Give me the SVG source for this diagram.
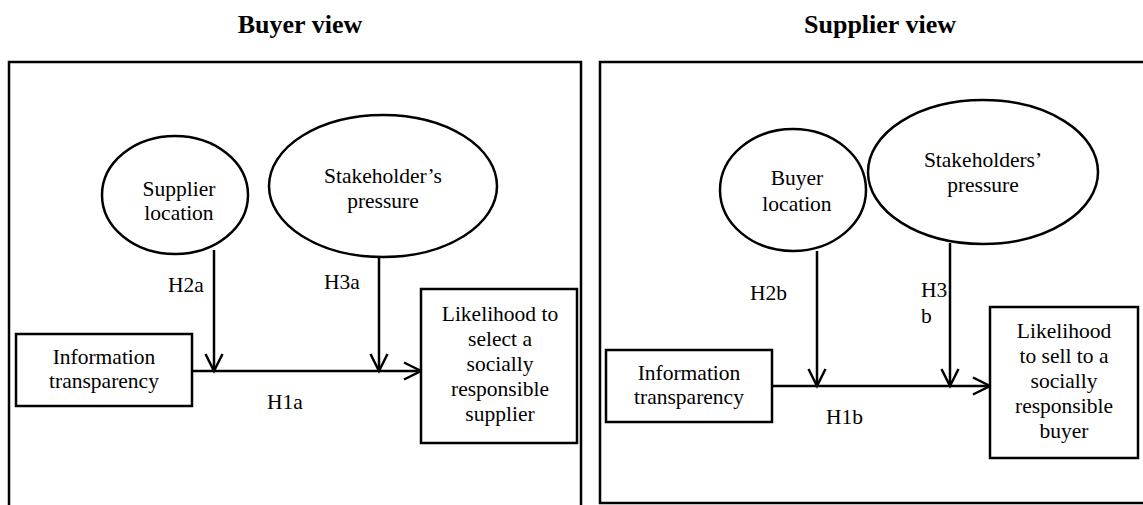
<svg xmlns="http://www.w3.org/2000/svg" width="1143" height="505" viewBox="0 0 1143 505">
<style>
  .t { font-family: "Liberation Serif", "Times New Roman", serif; font-size: 21.5px; fill: #000; }
  .c { text-anchor: middle; }
  .title { font-family: "Liberation Serif", "Times New Roman", serif; font-size: 26px; font-weight: bold; text-anchor: middle; fill: #000; }
  .shape { fill: #fff; stroke: #000; stroke-width: 2.5; }
  .panel { fill: none; stroke: #000; stroke-width: 2.5; }
  .conn { fill: none; stroke: #000; stroke-width: 2.5; }
</style>
<defs>
  <marker id="arr" markerUnits="userSpaceOnUse" markerWidth="24" markerHeight="24" viewBox="-20 -12 24 24" refX="0" refY="0" orient="auto">
    <path d="M-17,-8.5 L0,0 L-17,8.5" fill="none" stroke="#000" stroke-width="2.5"/>
  </marker>
</defs>
<rect width="1143" height="505" fill="#fff"/>

<text class="title" x="300" y="33">Buyer view</text>
<text class="title" x="880" y="33">Supplier view</text>

<g id="panel-buyer"><path class="panel" d="M9,510 L9,62 L581,62 L581,510"/></g>
<g id="panel-supplier"><path class="panel" d="M1150,62 L600,62 L600,503 L1150,503"/></g>

<g id="connectors">
  <line class="conn" x1="192" y1="371" x2="421" y2="371" marker-end="url(#arr)"/>
  <line class="conn" x1="214" y1="250" x2="214" y2="371" marker-end="url(#arr)"/>
  <line class="conn" x1="379" y1="257" x2="379" y2="371" marker-end="url(#arr)"/>
  <line class="conn" x1="772" y1="386" x2="990" y2="386" marker-end="url(#arr)"/>
  <line class="conn" x1="817" y1="251" x2="817" y2="386" marker-end="url(#arr)"/>
  <line class="conn" x1="950" y1="243" x2="950" y2="386" marker-end="url(#arr)"/>
</g>

<g id="buyer-info">
  <rect class="shape" x="16" y="334" width="176" height="72"/>
  <text class="t c" x="104" y="364">Information</text>
  <text class="t c" x="104" y="388">transparency</text>
</g>
<g id="buyer-supplier-location">
  <ellipse class="shape" cx="175" cy="195" rx="73" ry="59"/>
  <text class="t c" x="179" y="196">Supplier</text>
  <text class="t c" x="179" y="220">location</text>
</g>
<g id="buyer-stakeholder">
  <ellipse class="shape" cx="383" cy="186" rx="114" ry="71"/>
  <text class="t c" x="383" y="183">Stakeholder’s</text>
  <text class="t c" x="383" y="208">pressure</text>
</g>
<g id="buyer-likelihood">
  <rect class="shape" x="421" y="289" width="156" height="154"/>
  <text class="t c" x="500" y="321">Likelihood to</text>
  <text class="t c" x="500" y="346">select a</text>
  <text class="t c" x="500" y="371">socially</text>
  <text class="t c" x="500" y="396">responsible</text>
  <text class="t c" x="500" y="421">supplier</text>
</g>
<g id="buyer-labels">
  <text class="t" x="168" y="292">H2a</text>
  <text class="t" x="324" y="289">H3a</text>
  <text class="t" x="267" y="409">H1a</text>
</g>

<g id="supplier-info">
  <rect class="shape" x="606" y="350" width="166" height="72"/>
  <text class="t c" x="689" y="380">Information</text>
  <text class="t c" x="689" y="404">transparency</text>
</g>
<g id="supplier-buyer-location">
  <ellipse class="shape" cx="793" cy="190" rx="73" ry="61"/>
  <text class="t c" x="797" y="185">Buyer</text>
  <text class="t c" x="797" y="211">location</text>
</g>
<g id="supplier-stakeholders">
  <ellipse class="shape" cx="983" cy="172" rx="115" ry="72"/>
  <text class="t c" x="983" y="167">Stakeholders’</text>
  <text class="t c" x="983" y="192">pressure</text>
</g>
<g id="supplier-likelihood">
  <rect class="shape" x="990" y="307" width="148" height="151"/>
  <text class="t c" x="1064" y="338">Likelihood</text>
  <text class="t c" x="1064" y="363">to sell to a</text>
  <text class="t c" x="1064" y="388">socially</text>
  <text class="t c" x="1064" y="413">responsible</text>
  <text class="t c" x="1064" y="438">buyer</text>
</g>
<g id="supplier-labels">
  <text class="t" x="750" y="300">H2b</text>
  <text class="t" x="921" y="297">H3</text>
  <text class="t" x="921" y="323">b</text>
  <text class="t" x="826" y="424">H1b</text>
</g>
</svg>
